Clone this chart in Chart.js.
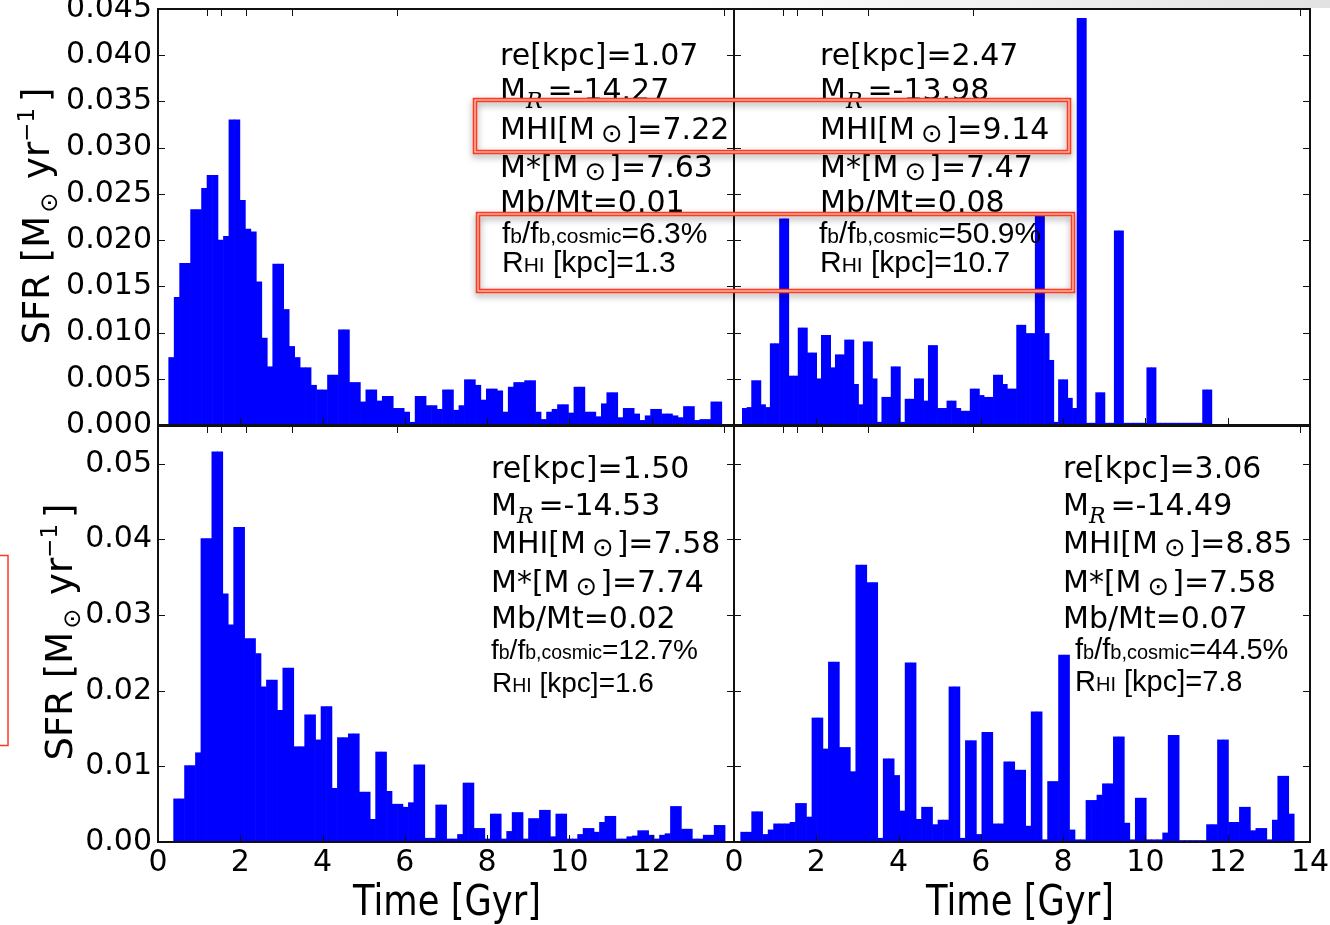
<!DOCTYPE html>
<html>
<head>
<meta charset="utf-8">
<title>SFR histories</title>
<script src="https://cdn.jsdelivr.net/npm/chart.js@4.4.1/dist/chart.umd.min.js"></script>
<style>
  html, body { margin: 0; padding: 0; background: #ffffff; overflow: hidden; }
  #figure { position: relative; width: 1330px; height: 925px; }
  #figure canvas { position: absolute; left: 0; top: 0; }
</style>
</head>
<body>
<div id="figure">
  <canvas id="panel-tl" width="1330" height="925"></canvas>
  <canvas id="panel-tr" width="1330" height="925"></canvas>
  <canvas id="panel-bl" width="1330" height="925"></canvas>
  <canvas id="panel-br" width="1330" height="925"></canvas>
</div>
<script>
// axis ticks
const TIME_TICKS = [0, 2, 4, 6, 8, 10, 12, 14];
const TIME_LABELS_BL = ["0", "2", "4", "6", "8", "10", "12", ""];
const TIME_LABELS_BR = ["0", "2", "4", "6", "8", "10", "12", "14"];
const REDSHIFT_AGES = [1.2, 1.52, 2.14, 3.26, 5.8, 13.76]; // z = 5,4,3,2,1,0 on the top axis
const SFR_TICKS_TOP = [0, 0.005, 0.01, 0.015, 0.02, 0.025, 0.03, 0.035, 0.04, 0.045];
const SFR_LABELS_TOP = ["0.000", "0.005", "0.010", "0.015", "0.020", "0.025", "0.030", "0.035", "0.040", "0.045"];
const SFR_TICKS_BOTTOM = [0, 0.01, 0.02, 0.03, 0.04, 0.05];
const SFR_LABELS_BOTTOM = ["0.00", "0.01", "0.02", "0.03", "0.04", "0.05"];

// histogram bins [start Gyr, width Gyr]
const BINS_TL = [0.26, 0.1331];
const BINS_TR = [0.202, 0.113];
const BINS_BL = [0.38, 0.1327];
const BINS_BR = [0.163, 0.1332];

// SFR per bin [Msun/yr]
const SFR_TL = [
  0.0073, 0.0138, 0.0175, 0.0175, 0.0233, 0.0233, 0.0256, 0.0270, 0.0270, 0.0200,
  0.0204, 0.0330, 0.0330, 0.0243, 0.0212, 0.0209, 0.0155, 0.0094, 0.0063, 0.0174,
  0.0174, 0.0125, 0.0085, 0.0073, 0.0062, 0.0062, 0.0043, 0.0038, 0.0038, 0.0054,
  0.0054, 0.0103, 0.0103, 0.0046, 0.0046, 0.0025, 0.0038, 0.0038, 0.0026, 0.0031,
  0.0031, 0.0018, 0.0018, 0.0014, 0.0003, 0.0031, 0.0031, 0.0021, 0.0021, 0.0017,
  0.0038, 0.0038, 0.0016, 0.0021, 0.0049, 0.0049, 0.0043, 0.0027, 0.0039, 0.0039,
  0.0037, 0.0014, 0.0041, 0.0046, 0.0046, 0.0048, 0.0048, 0.0014, 0.0006, 0.0014,
  0.0017, 0.0022, 0.0022, 0.0013, 0.0041, 0.0041, 0.0014, 0.0014, 0.0009, 0.0023,
  0.0035, 0.0035, 0.0008, 0.0018, 0.0018, 0.0012, 0.0005, 0.0010, 0.0017, 0.0017,
  0.0012, 0.0012, 0.0010, 0.0008, 0.0020, 0.0020, 0.0005, 0.0006, 0.0006, 0.0025,
  0.0025
];
const SFR_TR = [
  0.0018, 0.0019, 0.0048, 0.0048, 0.0022, 0.0019, 0.0088, 0.0088, 0.0223, 0.0223,
  0.0053, 0.0053, 0.0105, 0.0105, 0.0078, 0.0078, 0.0050, 0.0097, 0.0097, 0.0062,
  0.0076, 0.0076, 0.0092, 0.0092, 0.0044, 0.0022, 0.0090, 0.0090, 0.0050, 0.0003,
  0.0030, 0.0030, 0.0063, 0.0063, 0.0003, 0.0028, 0.0028, 0.0050, 0.0050, 0.0026,
  0.0086, 0.0086, 0.0018, 0.0018, 0.0026, 0.0026, 0.0018, 0.0015, 0.0015, 0.0039,
  0.0039, 0.0032, 0.0030, 0.0030, 0.0054, 0.0054, 0.0044, 0.0039, 0.0039, 0.0108,
  0.0108, 0.0099, 0.0099, 0.0226, 0.0226, 0.0099, 0.0070, 0.0003, 0.0049, 0.0049,
  0.0029, 0.0018, 0.0440, 0.0440, 0.0002, 0.0002, 0.0035, 0.0035, 0.0002, 0.0002,
  0.0210, 0.0210, 0.0002, 0.0002, 0.0002, 0.0002, 0.0002, 0.0062, 0.0062, 0.0002,
  0.0002, 0.0002, 0.0002, 0.0002, 0.0002, 0.0002, 0.0002, 0.0002, 0.0002, 0.0038,
  0.0038
];
const SFR_BL = [
  0.0057, 0.0057, 0.0101, 0.0101, 0.0118, 0.0401, 0.0401, 0.0516, 0.0516, 0.0328,
  0.0287, 0.0416, 0.0416, 0.0269, 0.0269, 0.0249, 0.0205, 0.0214, 0.0214, 0.0174,
  0.0230, 0.0230, 0.0126, 0.0126, 0.0168, 0.0168, 0.0135, 0.0179, 0.0179, 0.0071,
  0.0138, 0.0138, 0.0143, 0.0143, 0.0066, 0.0066, 0.0030, 0.0119, 0.0119, 0.0067,
  0.0050, 0.0050, 0.0046, 0.0052, 0.0102, 0.0102, 0.0005, 0.0005, 0.0049, 0.0049,
  0.0004, 0.0004, 0.0010, 0.0078, 0.0078, 0.0018, 0.0018, 0.0004, 0.0037, 0.0037,
  0.0004, 0.0014, 0.0039, 0.0039, 0.0004, 0.0031, 0.0031, 0.0042, 0.0042, 0.0007,
  0.0037, 0.0037, 0.0004, 0.0004, 0.0010, 0.0018, 0.0018, 0.0013, 0.0026, 0.0034,
  0.0034, 0.0004, 0.0004, 0.0007, 0.0008, 0.0015, 0.0015, 0.0009, 0.0004, 0.0009,
  0.0011, 0.0047, 0.0047, 0.0017, 0.0017, 0.0004, 0.0004, 0.0009, 0.0009, 0.0022,
  0.0022
];
const SFR_BR = [
  0.0013, 0.0013, 0.0040, 0.0040, 0.0010, 0.0016, 0.0024, 0.0024, 0.0024, 0.0026,
  0.0051, 0.0051, 0.0033, 0.0164, 0.0164, 0.0123, 0.0238, 0.0238, 0.0125, 0.0125,
  0.0093, 0.0366, 0.0366, 0.0343, 0.0343, 0.0005, 0.0110, 0.0110, 0.0088, 0.0041,
  0.0237, 0.0237, 0.0030, 0.0046, 0.0046, 0.0023, 0.0029, 0.0029, 0.0205, 0.0205,
  0.0005, 0.0134, 0.0134, 0.0010, 0.0145, 0.0145, 0.0024, 0.0024, 0.0106, 0.0106,
  0.0095, 0.0095, 0.0021, 0.0172, 0.0172, 0.0003, 0.0080, 0.0080, 0.0247, 0.0247,
  0.0016, 0.0003, 0.0003, 0.0055, 0.0055, 0.0062, 0.0077, 0.0077, 0.0139, 0.0139,
  0.0025, 0.0003, 0.0058, 0.0058, 0.0003, 0.0003, 0.0003, 0.0012, 0.0141, 0.0141,
  0.0002, 0.0002, 0.0002, 0.0002, 0.0002, 0.0023, 0.0023, 0.0135, 0.0135, 0.0026,
  0.0026, 0.0046, 0.0046, 0.0015, 0.0018, 0.0018, 0.0003, 0.0029, 0.0087, 0.0087,
  0.0037
];

// galaxy properties, panels in order TL, TR, BL, BR
const RE_KPC = ["1.07", "2.47", "1.50", "3.06"];
const M_R = ["-14.27", "-13.98", "-14.53", "-14.49"];
const MHI = ["7.22", "9.14", "7.58", "8.85"];
const MSTAR = ["7.63", "7.47", "7.74", "7.58"];
const MB_MT = ["0.01", "0.08", "0.02", "0.07"];
const FB_COSMIC = ["6.3%", "50.9%", "12.7%", "44.5%"];
const R_HI = ["1.3", "10.7", "1.6", "7.8"];

const FIG_W = 1330;
const FIG_H = 925;
const BLUE = "#0000ff";
const FRAME = "#111111";
const RED = "#ff3a1e";
const SANS = "'DejaVu Sans'";
const ARIAL = "'Liberation Sans'";
const STAT_FONT = "30px " + SANS;

function measureRuns(ctx, runs) {
  let w = 0;
  runs.forEach((r) => {
    ctx.font = r.font;
    w += (r.gapBefore || 0) + ctx.measureText(r.text).width + (r.gapAfter || 0);
  });
  return w;
}

function drawRuns(ctx, x, y, runs) {
  let cx = x;
  runs.forEach((r) => {
    ctx.font = r.font;
    cx += r.gapBefore || 0;
    ctx.fillText(r.text, cx, y + (r.dy || 0));
    cx += ctx.measureText(r.text).width + (r.gapAfter || 0);
  });
}

function statLines(i, fbBig, fbSmall) {
  const sun = { text: "\u2299", font: "26px " + SANS, dy: 3, gapBefore: 6, gapAfter: 3 };
  const big = fbBig + "px " + ARIAL;
  const small = fbSmall + "px " + ARIAL;
  return [
    [{ text: "re[kpc]=" + RE_KPC[i], font: STAT_FONT }],
    [
      { text: "M", font: STAT_FONT },
      { text: "R", font: "italic 22px 'DejaVu Serif'", dy: 8, gapAfter: 5 },
      { text: "=" + M_R[i], font: STAT_FONT },
    ],
    [{ text: "MHI[M", font: STAT_FONT }, sun, { text: "]=" + MHI[i], font: STAT_FONT }],
    [{ text: "M*[M", font: STAT_FONT }, sun, { text: "]=" + MSTAR[i], font: STAT_FONT }],
    [{ text: "Mb/Mt=" + MB_MT[i], font: STAT_FONT }],
    [
      { text: "f", font: big },
      { text: "b", font: small },
      { text: "/f", font: big },
      { text: "b,cosmic", font: small },
      { text: "=" + FB_COSMIC[i], font: big },
    ],
    [
      { text: "R", font: big },
      { text: "HI", font: small },
      { text: " [kpc]=" + R_HI[i], font: big },
    ],
  ];
}

function drawYTitle(ctx, baseX, centerY) {
  const titleFont = "37px " + SANS;
  const runs = [
    { text: "SFR [M", font: titleFont },
    { text: "\u2299", font: "24px " + SANS, dy: 8, gapBefore: 3, gapAfter: 2 },
    { text: " yr", font: titleFont },
    { text: "\u22121", font: "23px " + SANS, dy: -15 },
    { text: "]", font: titleFont, gapBefore: 6 },
  ];
  const w = measureRuns(ctx, runs);
  ctx.save();
  ctx.translate(baseX, centerY);
  ctx.rotate(-Math.PI / 2);
  drawRuns(ctx, -w / 2, 0, runs);
  ctx.restore();
}

function drawXTitle(ctx, centerX, baseY) {
  ctx.save();
  ctx.font = "42px " + SANS;
  ctx.textAlign = "center";
  ctx.translate(centerX, baseY);
  ctx.scale(0.84, 1);
  ctx.fillText("Time [Gyr]", 0, 0);
  ctx.restore();
}

function drawRedBox(ctx, x, y, w, h) {
  ctx.save();
  ctx.shadowColor = "rgba(0,0,0,0.35)";
  ctx.shadowBlur = 7;
  ctx.shadowOffsetY = 3;
  ctx.strokeStyle = RED;
  ctx.lineWidth = 4.5;
  ctx.strokeRect(x, y, w, h);
  ctx.restore();
  ctx.save();
  ctx.strokeStyle = "rgba(255,255,255,0.9)";
  ctx.lineWidth = 1;
  ctx.strokeRect(x, y, w, h);
  ctx.restore();
}

function panelPlugin(p) {
  return {
    id: "panelFrame",
    afterDatasetsDraw(chart) {
      const { ctx, chartArea: a } = chart;
      const x = chart.scales.x;
      const y = chart.scales.y;
      ctx.save();
      ctx.strokeStyle = FRAME;
      ctx.lineWidth = 1;
      ctx.beginPath();
      p.yTicks.forEach((v) => {
        const py = Math.round(y.getPixelForValue(v)) + 0.5;
        ctx.moveTo(a.left, py);
        ctx.lineTo(a.left + 7, py);
        ctx.moveTo(a.right, py);
        ctx.lineTo(a.right - 7, py);
      });
      TIME_TICKS.forEach((v) => {
        const px = Math.round(x.getPixelForValue(v)) + 0.5;
        ctx.moveTo(px, a.bottom);
        ctx.lineTo(px, a.bottom - 7);
      });
      REDSHIFT_AGES.forEach((v) => {
        const px = Math.round(x.getPixelForValue(v)) + 0.5;
        ctx.moveTo(px, a.top);
        ctx.lineTo(px, a.top + 7);
      });
      ctx.stroke();
      ctx.lineWidth = 2;
      ctx.strokeRect(a.left, a.top, a.right - a.left, a.bottom - a.top);
      ctx.restore();
    },
    afterDraw(chart) {
      const ctx = chart.ctx;
      ctx.save();
      ctx.fillStyle = "#000000";
      ctx.textAlign = "left";
      ctx.textBaseline = "alphabetic";
      statLines(p.index, p.fbBig, p.fbSmall).forEach((runs, k) => {
        drawRuns(ctx, p.textX + (p.textShift[k] || 0), p.baselines[k], runs);
      });
      if (p.yTitle) drawYTitle(ctx, p.yTitle[0], p.yTitle[1]);
      if (p.xTitle) drawXTitle(ctx, p.xTitle[0], p.xTitle[1]);
      if (p.overlay) p.overlay(ctx);
      ctx.restore();
    },
  };
}

function figureOverlay(ctx) {
  const band = ctx.createLinearGradient(700, 0, FIG_W, 0);
  band.addColorStop(0, "rgba(226,226,226,0)");
  band.addColorStop(1, "rgba(226,226,226,1)");
  ctx.fillStyle = band;
  ctx.fillRect(700, 0, FIG_W - 700, 8);
  drawRedBox(ctx, 475, 100, 594, 52);
  drawRedBox(ctx, 478, 214, 595, 77);
  ctx.strokeStyle = RED;
  ctx.lineWidth = 1.5;
  ctx.strokeRect(-20, 555.5, 28, 190);
}

function panelChart(canvasId, p) {
  const data = p.values.map((v, i) => ({ x: p.bins[0] + (i + 0.5) * p.bins[1], y: v }));
  const yAxisWidth = p.area[0];
  const xAxisHeight = FIG_H - p.area[3];
  return new Chart(document.getElementById(canvasId), {
    type: "bar",
    data: {
      datasets: [
        {
          data: data,
          backgroundColor: BLUE,
          borderWidth: 0,
          barPercentage: 1,
          categoryPercentage: 1,
        },
      ],
    },
    options: {
      responsive: false,
      animation: false,
      devicePixelRatio: 1,
      events: [],
      layout: {
        padding: { left: 0, top: p.area[1], right: FIG_W - p.area[2], bottom: 0 },
      },
      plugins: {
        legend: { display: false },
        tooltip: { enabled: false },
      },
      scales: {
        x: {
          type: "linear",
          min: 0,
          max: 14,
          offset: false,
          afterBuildTicks: (s) => {
            s.ticks = TIME_TICKS.map((value) => ({ value }));
          },
          afterFit: (s) => {
            s.height = xAxisHeight;
            s.paddingLeft = 0;
            s.paddingRight = 0;
          },
          grid: { display: false, drawTicks: false },
          border: { display: false },
          ticks: {
            display: !!p.xLabels,
            autoSkip: false,
            maxRotation: 0,
            padding: 3,
            color: "#000000",
            font: { family: "DejaVu Sans", size: 30 },
            callback: (v, i) => (p.xLabels ? p.xLabels[i] : ""),
          },
        },
        y: {
          type: "linear",
          min: 0,
          max: p.yMax,
          afterBuildTicks: (s) => {
            s.ticks = p.yTicks.map((value) => ({ value }));
          },
          afterFit: (s) => {
            s.width = yAxisWidth;
            s.paddingTop = 0;
            s.paddingBottom = 0;
          },
          grid: { display: false, drawTicks: false },
          border: { display: false },
          ticks: {
            display: !!p.yLabels,
            autoSkip: false,
            padding: 6,
            color: "#000000",
            font: { family: "DejaVu Sans", size: 30 },
            callback: (v, i) => (p.yLabels ? p.yLabels[i] : ""),
          },
        },
      },
    },
    plugins: [panelPlugin(p)],
  });
}

panelChart("panel-tl", {
  index: 0,
  values: SFR_TL,
  bins: BINS_TL,
  area: [158, 9, 734, 425],
  yMax: 0.045,
  yTicks: SFR_TICKS_TOP,
  yLabels: SFR_LABELS_TOP,
  textX: 500,
  textShift: [0, 0, 0, 0, 0, 2, 2],
  baselines: [65, 100, 139, 177, 212, 243, 272],
  fbBig: 30,
  fbSmall: 21,
  yTitle: [49, 216],
});

panelChart("panel-tr", {
  index: 1,
  values: SFR_TR,
  bins: BINS_TR,
  area: [734, 9, 1310, 425],
  yMax: 0.045,
  yTicks: SFR_TICKS_TOP,
  textX: 820,
  textShift: [0, 0, 0, 0, 0, -1, 0],
  baselines: [65, 100, 139, 177, 212, 243, 272],
  fbBig: 30,
  fbSmall: 21,
});

panelChart("panel-bl", {
  index: 2,
  values: SFR_BL,
  bins: BINS_BL,
  area: [158, 426, 734, 842],
  yMax: 0.055,
  yTicks: SFR_TICKS_BOTTOM,
  yLabels: SFR_LABELS_BOTTOM,
  xLabels: TIME_LABELS_BL,
  textX: 491,
  textShift: [0, 0, 0, 0, 0, 0, 1],
  baselines: [478, 515, 553, 592, 628, 659, 692],
  fbBig: 28,
  fbSmall: 19.5,
  yTitle: [72, 632],
  xTitle: [447, 915],
});

panelChart("panel-br", {
  index: 3,
  values: SFR_BR,
  bins: BINS_BR,
  area: [734, 426, 1310, 842],
  yMax: 0.055,
  yTicks: SFR_TICKS_BOTTOM,
  xLabels: TIME_LABELS_BR,
  textX: 1063,
  textShift: [0, 0, 0, 0, 0, 12, 12],
  baselines: [478, 515, 553, 592, 628, 659, 691],
  fbBig: 29,
  fbSmall: 20,
  xTitle: [1020, 915],
  overlay: figureOverlay,
});
</script>
</body>
</html>
